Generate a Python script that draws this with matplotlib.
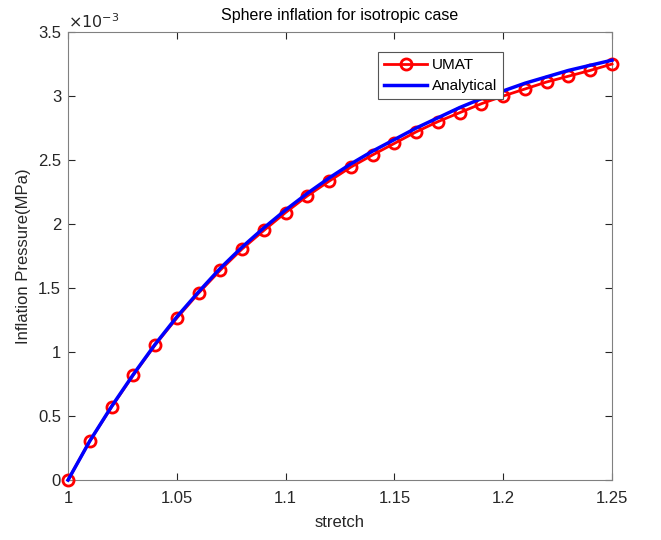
import numpy as np
import matplotlib
matplotlib.use('Agg')
from matplotlib import pyplot as plt
from matplotlib.ticker import FuncFormatter

plt.rcParams['font.family'] = ['Liberation Sans', 'DejaVu Sans']

# stretch values and pressures (x 1e-3 MPa)
stretch = [1.00, 1.01, 1.02, 1.03, 1.04, 1.05, 1.06, 1.07, 1.08, 1.09, 1.10,
           1.11, 1.12, 1.13, 1.14, 1.15, 1.16, 1.17, 1.18, 1.19, 1.20,
           1.21, 1.22, 1.23, 1.24, 1.25]
umat = [0.0, 0.305, 0.57, 0.82, 1.055, 1.265, 1.46, 1.64, 1.805, 1.95, 2.09,
        2.22, 2.335, 2.445, 2.54, 2.63, 2.72, 2.80, 2.87, 2.94, 3.00,
        3.055, 3.11, 3.155, 3.20, 3.25]
analytical = [0.0, 0.305, 0.575, 0.825, 1.06, 1.275, 1.47, 1.655, 1.82, 1.97, 2.11,
              2.24, 2.36, 2.47, 2.57, 2.66, 2.75, 2.83, 2.91, 2.98, 3.04,
              3.10, 3.15, 3.20, 3.24, 3.28]
scale = 1e-3

fig = plt.figure(figsize=(6.61, 5.40), dpi=100)
ax = fig.add_axes([0.1029, 0.111, 0.823, 0.8297])

ax.plot(stretch, np.array(umat) * scale, '-o', color='red', lw=2,
        ms=8, mfc='none', mew=2, label='UMAT', clip_on=False, zorder=3)
ax.plot(stretch, np.array(analytical) * scale, '-', color='blue', lw=2.5,
        label='Analytical', clip_on=False, zorder=4)

ax.set_xlim(1, 1.25)
ax.set_ylim(0, 3.5e-3)
ax.set_xticks(np.arange(1, 1.2501, 0.05))
ax.set_yticks(np.arange(0, 3.5001e-3, 0.5e-3))
ax.xaxis.set_major_formatter(FuncFormatter(lambda v, p: '%g' % round(v, 4)))
ax.yaxis.set_major_formatter(FuncFormatter(lambda v, p: '%g' % round(v / scale, 4)))

grey = '#262626'
for s in ax.spines.values():
    s.set_color('#808080')
    s.set_linewidth(0.8)
ax.tick_params(direction='in', top=True, right=True, length=5, width=0.8,
               color=grey, labelcolor=grey, labelsize=12)
ax.tick_params(axis='x', pad=8)
ax.tick_params(axis='y', pad=5)

ax.text(0.0, 1.003, r'$\times10^{-3}$', transform=ax.transAxes,
        fontsize=11.5, color=grey, ha='left', va='bottom')

ax.set_title('Sphere inflation for isotropic case', fontsize=11.5, color='black', pad=9)
ax.set_xlabel('stretch', fontsize=12, color=grey, labelpad=6)
ax.set_ylabel('Inflation Pressure(MPa)', fontsize=12, color=grey, labelpad=5)

leg = ax.legend(loc='upper left', bbox_to_anchor=(0.57, 0.955), fontsize=11,
                fancybox=False, edgecolor='#555555', framealpha=1,
                handlelength=2.8, borderpad=0.4, labelspacing=0.45,
                handletextpad=0.3, borderaxespad=0)
leg.get_frame().set_linewidth(0.8)

fig.savefig('out.png', dpi=100)
